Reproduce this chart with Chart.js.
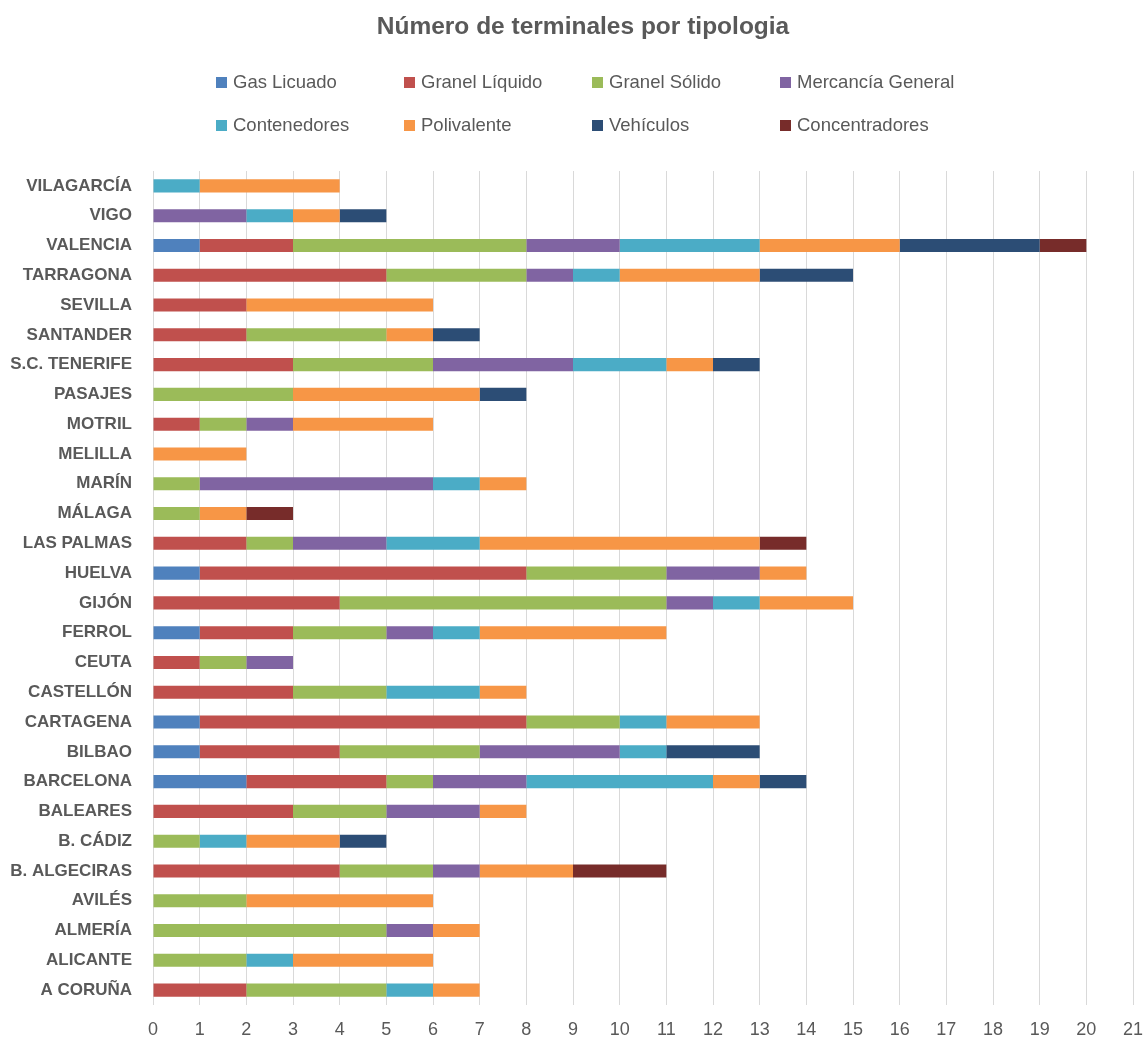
<!DOCTYPE html>
<html lang="es">
<head>
<meta charset="utf-8">
<title>Número de terminales por tipologia</title>
<script src="https://cdn.jsdelivr.net/npm/chart.js@4.4.1/dist/chart.umd.min.js"></script>
<style>
  html, body { margin: 0; padding: 0; background: #ffffff; }
  #wrap { position: relative; width: 1146px; height: 1038px; }
</style>
</head>
<body>
<div id="wrap"><canvas id="chart" width="1146" height="1038"></canvas></div>
<script>
// Ports, listed top to bottom
const ports = ['VILAGARCÍA','VIGO','VALENCIA','TARRAGONA','SEVILLA','SANTANDER','S.C. TENERIFE','PASAJES','MOTRIL','MELILLA','MARÍN','MÁLAGA','LAS PALMAS','HUELVA','GIJÓN','FERROL','CEUTA','CASTELLÓN','CARTAGENA','BILBAO','BARCELONA','BALEARES','B. CÁDIZ','B. ALGECIRAS','AVILÉS','ALMERÍA','ALICANTE','A CORUÑA'];

// Terminals per type, one value per port (same order as ports)
const gasLicuado      = [0,0,1,0,0,0,0,0,0,0,0,0,0,1,0,1,0,0,1,1,2,0,0,0,0,0,0,0];
const granelLiquido   = [0,0,2,5,2,2,3,0,1,0,0,0,2,7,4,2,1,3,7,3,3,3,0,4,0,0,0,2];
const granelSolido    = [0,0,5,3,0,3,3,3,1,0,1,1,1,3,7,2,1,2,2,3,1,2,1,2,2,5,2,3];
const mercanciaGeneral= [0,2,2,1,0,0,3,0,1,0,5,0,2,2,1,1,1,0,0,3,2,2,0,1,0,1,0,0];
const contenedores    = [1,1,3,1,0,0,2,0,0,0,1,0,2,0,1,1,0,2,1,1,4,0,1,0,0,0,1,1];
const polivalente     = [3,1,3,3,4,1,1,4,3,2,1,1,6,1,2,4,0,1,2,0,1,1,2,2,4,1,3,1];
const vehiculos       = [0,1,3,2,0,1,1,1,0,0,0,0,0,0,0,0,0,0,0,2,1,0,1,0,0,0,0,0];
const concentradores  = [0,0,1,0,0,0,0,0,0,0,0,1,1,0,0,0,0,0,0,0,0,0,0,2,0,0,0,0];

const seriesNames  = ['Gas Licuado','Granel Líquido','Granel Sólido','Mercancía General','Contenedores','Polivalente','Vehículos','Concentradores'];
const seriesValues = [gasLicuado, granelLiquido, granelSolido, mercanciaGeneral, contenedores, polivalente, vehiculos, concentradores];
const seriesColors = ['#4F81BD','#C0504D','#9BBB59','#8064A2','#4BACC6','#F79646','#2C4D75','#772C2A'];

const chartTitle = 'Número de terminales por tipologia';
const FONT = "'Liberation Sans', Arial, sans-serif";
const TEXT = '#595959';

// Title and a four-column legend drawn above the plot area
const headerPlugin = {
  id: 'header',
  afterDraw(chart) {
    const ctx = chart.ctx;
    ctx.save();
    ctx.fillStyle = TEXT;
    ctx.font = "bold 24.5px " + FONT;
    ctx.textAlign = 'center';
    ctx.textBaseline = 'middle';
    ctx.fillText(chartTitle, 583, 27);

    const colX = [216, 404, 592, 780];
    const rowY = [82, 125];
    ctx.font = "18.5px " + FONT;
    ctx.textAlign = 'left';
    seriesNames.forEach((name, i) => {
      const x = colX[i % 4];
      const y = rowY[Math.floor(i / 4)];
      ctx.fillStyle = seriesColors[i];
      ctx.fillRect(x, y - 5, 11, 11);
      ctx.fillStyle = TEXT;
      ctx.fillText(name, x + 17, y + 1);
    });
    ctx.restore();
  }
};

new Chart(document.getElementById('chart'), {
  type: 'bar',
  data: {
    labels: ports,
    datasets: seriesNames.map((name, i) => ({
      label: name,
      data: seriesValues[i],
      backgroundColor: seriesColors[i],
      borderWidth: 0,
      barPercentage: 0.44,
      categoryPercentage: 1.0
    }))
  },
  options: {
    indexAxis: 'y',
    responsive: false,
    animation: false,
    layout: { padding: { top: 171, right: 13, bottom: 0, left: 0 } },
    plugins: {
      legend: { display: false },
      title: { display: false },
      tooltip: { enabled: false }
    },
    scales: {
      x: {
        stacked: true,
        min: 0,
        max: 21,
        ticks: {
          stepSize: 1,
          color: TEXT,
          font: { family: FONT, size: 18 },
          padding: 14
        },
        grid: { color: '#d9d9d9', lineWidth: 1, drawTicks: false },
        border: { display: false },
        afterFit(scale) {
          scale.height = 33;
          scale.paddingLeft = 0;
          scale.paddingRight = 0;
        }
      },
      y: {
        stacked: true,
        ticks: {
          color: TEXT,
          font: { family: FONT, size: 17, weight: 'bold' },
          padding: 21
        },
        grid: { display: false, drawTicks: false },
        border: { display: false },
        afterFit(scale) {
          scale.width = 153;
          scale.paddingTop = 0;
          scale.paddingBottom = 0;
        }
      }
    }
  },
  plugins: [headerPlugin]
});
</script>
</body>
</html>
